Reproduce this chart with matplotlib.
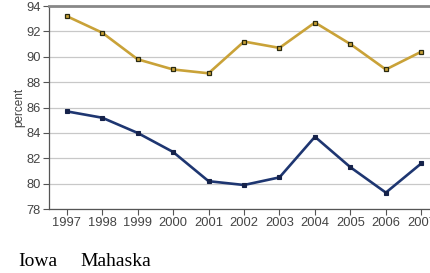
import matplotlib
matplotlib.use("Agg")
import matplotlib.pyplot as plt

years = ["1997", "1998", "1999", "2000", "2001", "2002", "2003", "2004", "2005", "2006", "2007"]
iowa = [93.2, 91.9, 89.8, 89.0, 88.7, 91.2, 90.7, 92.7, 91.0, 89.0, 90.4]
mahaska = [85.7, 85.2, 84.0, 82.5, 80.2, 79.9, 80.5, 83.7, 81.3, 79.3, 81.6]
yticks = [78, 80, 82, 84, 86, 88, 90, 92, 94]
series_names = ["Iowa", "Mahaska"]

fig = plt.figure(figsize=(4.30, 2.73), dpi=100)
ax = fig.add_axes([0.114, 0.234, 0.907, 0.744])

x = list(range(len(years)))
ax.plot(x, iowa, color="#C9A238", lw=1.9, marker="s", ms=3.2,
        mfc="#C9A238", mec="#2a2a10", mew=0.9, zorder=3)
ax.plot(x, mahaska, color="#1E3671", lw=1.9, marker="s", ms=3.2,
        mfc="#15224a", mec="#15224a", mew=0.8, zorder=3)

ax.set_xlim(-0.5, len(years) - 0.5)
ax.set_ylim(78, 94)
ax.set_yticks(yticks)
ax.set_yticklabels([str(v) for v in yticks])
ax.set_xticks(x)
ax.set_xticklabels(years)

for lab in ax.get_xticklabels() + ax.get_yticklabels():
    lab.set_fontfamily("Liberation Sans")
    lab.set_fontsize(9.3)
    lab.set_color("#444444")

ax.grid(axis="y", color="#c8c8c8", lw=0.9)
ax.set_axisbelow(True)
ax.tick_params(axis="both", direction="out", length=4, width=0.8, color="#555555", pad=2)

ax.spines["left"].set_color("#555555")
ax.spines["left"].set_linewidth(0.9)
ax.spines["bottom"].set_color("#555555")
ax.spines["bottom"].set_linewidth(0.9)
ax.spines["top"].set_color("#888888")
ax.spines["top"].set_linewidth(2.0)
ax.spines["right"].set_visible(False)

ax.set_ylabel("percent", fontfamily="Liberation Sans", fontsize=8.5, color="#444444", labelpad=1)

fig.text(18 / 430, 1 - 261 / 273, series_names[0], fontfamily="Liberation Serif",
         fontsize=14, color="black", va="center", ha="left")
fig.text(80 / 430, 1 - 261 / 273, series_names[1], fontfamily="Liberation Serif",
         fontsize=14, color="black", va="center", ha="left")

fig.savefig("out.png", dpi=100)
